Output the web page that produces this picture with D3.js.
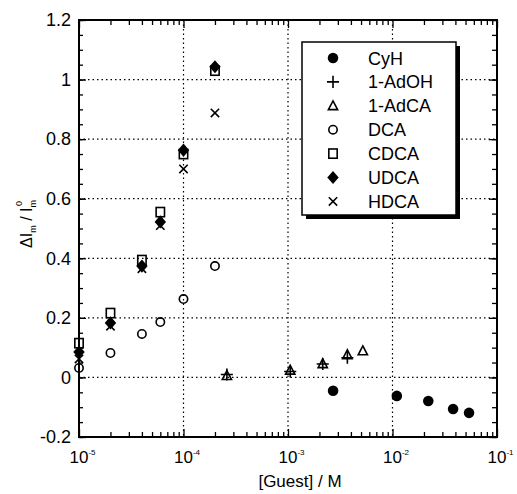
<!DOCTYPE html>
<html><head><meta charset="utf-8">
<script src="https://cdn.jsdelivr.net/npm/d3@7"></script>
<style>body{margin:0;background:#fff}svg{display:block}</style>
</head><body><svg id="c" width="517" height="494"></svg>
<script>
// ---- data ----
const xTickValues=[1e-5,1e-4,1e-3,1e-2,1e-1];
const xTickExp=["-5","-4","-3","-2","-1"];
const yTickValues=[-0.2,0,0.2,0.4,0.6,0.8,1,1.2];
const yTickLabels=["-0.2","0","0.2","0.4","0.6","0.8","1","1.2"];
const seriesNames=["CyH","1-AdOH","1-AdCA","DCA","CDCA","UDCA","HDCA"];
const seriesSymbols=["fcircle","plus","triangle","circle","square","diamond","times"];

const cyhX=[2.7e-3,1.1e-2,2.2e-2,3.8e-2,5.4e-2];
const cyhY=[-0.045,-0.062,-0.079,-0.106,-0.119];
const adohX=[2.6e-4,1.05e-3,2.15e-3,3.7e-3];
const adohY=[0.01,0.02,0.045,0.066];
const adcaX=[2.6e-4,1.05e-3,2.15e-3,3.7e-3,5.2e-3];
const adcaY=[0.006,0.024,0.046,0.076,0.089];
const dcaX=[1e-5,2e-5,4e-5,6e-5,1e-4,2e-4];
const dcaY=[0.032,0.082,0.146,0.186,0.263,0.374];
const cdcaX=[1e-5,2e-5,4e-5,6e-5,1e-4,2e-4];
const cdcaY=[0.115,0.216,0.394,0.555,0.75,1.03];
const udcaX=[1e-5,2e-5,4e-5,6e-5,1e-4,2e-4];
const udcaY=[0.085,0.183,0.374,0.522,0.763,1.043];
const hdcaX=[1e-5,2e-5,4e-5,6e-5,1e-4,2e-4];
const hdcaY=[0.062,0.172,0.365,0.51,0.70,0.888];

const seriesX=[cyhX,adohX,adcaX,dcaX,cdcaX,udcaX,hdcaX];
const seriesY=[cyhY,adohY,adcaY,dcaY,cdcaY,udcaY,hdcaY];

// ---- layout ----
const L=79,R=497,T=20,B=437;
const svg=d3.select("#c");
const x=d3.scaleLog().domain([1e-5,1e-1]).range([L,R]);
const y=d3.scaleLinear().domain([-0.2,1.2]).range([B,T]);
const FONT="'Liberation Sans', Arial, sans-serif";

// grid
const g=svg.append("g");
[1e-4,1e-3,1e-2].forEach(v=>g.append("line").attr("x1",x(v)).attr("x2",x(v)).attr("y1",T).attr("y2",B)
  .attr("stroke","#000").attr("stroke-width",1.2).attr("stroke-dasharray","1.5,3"));
[0,0.2,0.4,0.6,0.8,1].forEach(v=>g.append("line").attr("x1",L).attr("x2",R).attr("y1",y(v)).attr("y2",y(v))
  .attr("stroke","#000").attr("stroke-width",1.2).attr("stroke-dasharray","1.5,3"));

// markers
function marker(sel,type,cx,cy,s){
  const gg=sel.append("g").attr("transform",`translate(${cx},${cy})`);
  const sw=1.6;
  if(type==="fcircle") gg.append("circle").attr("r",s*0.48).attr("fill","#000");
  else if(type==="circle") gg.append("circle").attr("r",s*0.38).attr("fill","none").attr("stroke","#000").attr("stroke-width",sw);
  else if(type==="square") gg.append("rect").attr("x",-s*0.38).attr("y",-s*0.42).attr("width",s*0.76).attr("height",s*0.84).attr("fill","none").attr("stroke","#000").attr("stroke-width",sw);
  else if(type==="diamond") gg.append("path").attr("d",`M0,${-s*0.6}L${s*0.52},0L0,${s*0.6}L${-s*0.52},0Z`).attr("fill","#000");
  else if(type==="triangle") gg.append("path").attr("d",`M0,${-s*0.45}L${s*0.42},${s*0.35}L${-s*0.42},${s*0.35}Z`).attr("fill","none").attr("stroke","#000").attr("stroke-width",sw);
  else if(type==="plus") gg.append("path").attr("d",`M${-s*0.55},0H${s*0.55}M0,${-s*0.55}V${s*0.55}`).attr("stroke","#000").attr("stroke-width",sw);
  else if(type==="times") gg.append("path").attr("d",`M${-s*0.38},${-s*0.38}L${s*0.38},${s*0.38}M${s*0.38},${-s*0.38}L${-s*0.38},${s*0.38}`).attr("stroke","#000").attr("stroke-width",sw);
}
const pts=svg.append("g");
seriesX.forEach((xs,i)=>xs.forEach((xv,j)=>marker(pts,seriesSymbols[i],x(xv),y(seriesY[i][j]),11)));

// axes ticks
const minorX=[];
for(let e=-5;e<-1;e++) for(let m=2;m<=9;m++) minorX.push(m*Math.pow(10,e));
const minorY=d3.range(-0.2,1.2001,0.05).map(v=>+v.toFixed(2));
function styleAxis(a){a.select(".domain").remove();a.selectAll("line").attr("stroke","#000").attr("stroke-width",1.3);}
svg.append("g").attr("transform",`translate(0,${B})`).call(d3.axisBottom(x).tickValues(minorX).tickSize(-5).tickFormat("")).call(styleAxis);
svg.append("g").attr("transform",`translate(0,${B})`).call(d3.axisBottom(x).tickValues(xTickValues).tickSize(-8).tickFormat("")).call(styleAxis);
svg.append("g").attr("transform",`translate(0,${T})`).call(d3.axisTop(x).tickValues(minorX).tickSize(-5).tickFormat("")).call(styleAxis);
svg.append("g").attr("transform",`translate(0,${T})`).call(d3.axisTop(x).tickValues(xTickValues).tickSize(-8).tickFormat("")).call(styleAxis);
svg.append("g").attr("transform",`translate(${R},0)`).call(d3.axisRight(y).tickValues(minorY).tickSize(-5).tickFormat("")).call(styleAxis);
svg.append("g").attr("transform",`translate(${R},0)`).call(d3.axisRight(y).tickValues(yTickValues).tickSize(-8).tickFormat("")).call(styleAxis);
svg.append("g").attr("transform",`translate(${L},0)`).call(d3.axisLeft(y).tickValues(minorY).tickSize(-4).tickFormat("")).call(styleAxis);
const ya=svg.append("g").attr("transform",`translate(${L},0)`).call(d3.axisLeft(y).tickValues(yTickValues).tickSize(-7).tickPadding(8).tickFormat((d,i)=>yTickLabels[i]));
styleAxis(ya);
ya.selectAll("text").attr("font-family",FONT).attr("font-size",18).attr("fill","#000");

// x tick labels
xTickValues.forEach((v,i)=>{
  const t=svg.append("text").attr("x",x(v)-9.5).attr("y",463).attr("text-anchor","start")
    .attr("font-family",FONT).attr("font-size",17).attr("fill","#000");
  t.append("tspan").text("10");
  t.append("tspan").attr("dy",-8).attr("font-size",8).text(xTickExp[i]);
});

// frame
svg.append("rect").attr("x",L).attr("y",T).attr("width",R-L).attr("height",B-T).attr("fill","none").attr("stroke","#000").attr("stroke-width",2);

// axis titles
svg.append("text").attr("x",300).attr("y",487).attr("text-anchor","middle").attr("font-family",FONT).attr("font-size",17).attr("fill","#000").text("[Guest] / M");
const yl=svg.append("text").attr("transform","translate(32,224) rotate(-90)").attr("text-anchor","middle").attr("font-family",FONT).attr("font-size",16).attr("fill","#000");
yl.append("tspan").text("ΔI");
yl.append("tspan").attr("dy",4).attr("font-size",9).text("m");
yl.append("tspan").attr("dy",-4).text(" / I");
yl.append("tspan").attr("dy",4).attr("font-size",9).text("m");
yl.append("tspan").attr("dy",-14).attr("dx",-6).attr("font-size",9).text("0");

// legend
const lg=svg.append("g");
lg.append("rect").attr("x",306).attr("y",46).attr("width",154).attr("height",173).attr("fill","#000");
lg.append("rect").attr("x",302).attr("y",42).attr("width",154).attr("height",173).attr("fill","#fff").attr("stroke","#000").attr("stroke-width",1.5);
seriesNames.forEach((n,i)=>{
  const yy=58+i*23.9;
  marker(lg,seriesSymbols[i],333,yy,11);
  lg.append("text").attr("x",368).attr("y",yy+6.5).attr("font-family",FONT).attr("font-size",18).attr("fill","#000").text(n);
});
</script></body></html>
